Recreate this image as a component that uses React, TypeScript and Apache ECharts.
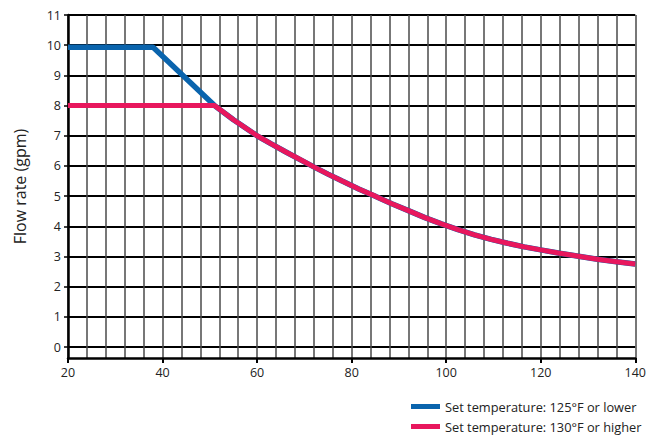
import React, { useEffect, useRef } from "react";
import * as echarts from "echarts";

const sharedCurve: [number, number][] = [
  [51, 8.0], [55, 7.53], [60, 7.0], [63, 6.73], [66, 6.47], [69, 6.22], [72, 5.97],
  [75, 5.73], [78, 5.5], [81.5, 5.24], [85, 5.0], [88.5, 4.75], [92, 4.52],
  [95.5, 4.29], [99, 4.08], [102.5, 3.89], [106, 3.72], [109.5, 3.57], [113, 3.44],
  [116.5, 3.32], [120, 3.22], [124, 3.11], [128, 3.01], [132, 2.91], [136, 2.83],
  [140, 2.75],
];
const lowTempSeries: [number, number][] = [[20, 9.93], [38, 9.93], ...sharedCurve];
const highTempSeries: [number, number][] = [[20, 8.0], ...sharedCurve];
const yTickValues = [0, 1, 2, 3, 4, 5, 6, 7, 8, 9, 10, 11];
const seriesNames = ["Set temperature: 125°F or lower", "Set temperature: 130°F or higher"];
const yAxisTitle = "Flow rate (gpm)";

const FONT = "'Open Sans', 'DejaVu Sans', sans-serif";

export default function App() {
  const ref = useRef<HTMLDivElement>(null);
  useEffect(() => {
    if (!ref.current) return;
    const chart = echarts.init(ref.current, undefined, { renderer: "svg" });
    const legendCommon = {
      orient: "horizontal",
      left: 411,
      itemWidth: 29,
      itemHeight: 5,
      icon: "rect",
      padding: 0,
      textStyle: { fontFamily: FONT, fontSize: 12.8, color: "#222" },
    };
    chart.setOption({
      animation: false,
      backgroundColor: "#ffffff",
      textStyle: { fontFamily: FONT },
      grid: { left: 68, right: 9, top: 15, bottom: 81, containLabel: false },
      legend: [
        { ...legendCommon, top: 400, data: [seriesNames[0]] },
        { ...legendCommon, top: 420, data: [seriesNames[1]] },
      ],
      xAxis: [
        {
          type: "value",
          min: 20,
          max: 140,
          interval: 4,
          axisLine: { show: false },
          axisTick: { show: false },
          axisLabel: { show: false },
          splitLine: { show: true, lineStyle: { color: "#4a4a4a", width: 1.5 } },
        },
        {
          type: "value",
          min: 20,
          max: 140,
          interval: 20,
          position: "bottom",
          axisLine: { show: true, lineStyle: { color: "#000", width: 2.5 } },
          axisTick: { show: true, length: 5, lineStyle: { color: "#000", width: 2 } },
          axisLabel: { fontFamily: FONT, fontSize: 12.5, color: "#222", margin: 8 },
          splitLine: { show: false },
        },
      ],
      yAxis: {
        type: "value",
        min: -0.36,
        max: 11,
        name: yAxisTitle,
        nameLocation: "middle",
        nameGap: 40,
        nameTextStyle: { fontFamily: FONT, fontSize: 16, color: "#222" },
        axisLine: { show: true, lineStyle: { color: "#000", width: 2.5 } },
        axisTick: { show: true, length: 4, customValues: yTickValues, lineStyle: { color: "#000", width: 1.5 } },
        axisLabel: { fontFamily: FONT, fontSize: 12.5, color: "#222", margin: 7, customValues: yTickValues },
        splitLine: { show: true, lineStyle: { color: "#000", width: 2 } },
      },
      series: [
        {
          name: seriesNames[0],
          type: "line",
          xAxisIndex: 0,
          data: lowTempSeries,
          showSymbol: false,
          symbol: "none",
          color: "#0a64ad",
          lineStyle: { color: "#0a64ad", width: 5.5 },
          z: 3,
        },
        {
          name: seriesNames[1],
          type: "line",
          xAxisIndex: 0,
          data: highTempSeries,
          showSymbol: false,
          symbol: "none",
          color: "#e8175d",
          lineStyle: { color: "#e8175d", width: 5 },
          z: 4,
        },
      ],
    });
    return () => chart.dispose();
  }, []);
  return (
    <div
      ref={ref}
      style={{ position: "fixed", left: 0, top: 0, width: 649, height: 439 }}
    />
  );
}
